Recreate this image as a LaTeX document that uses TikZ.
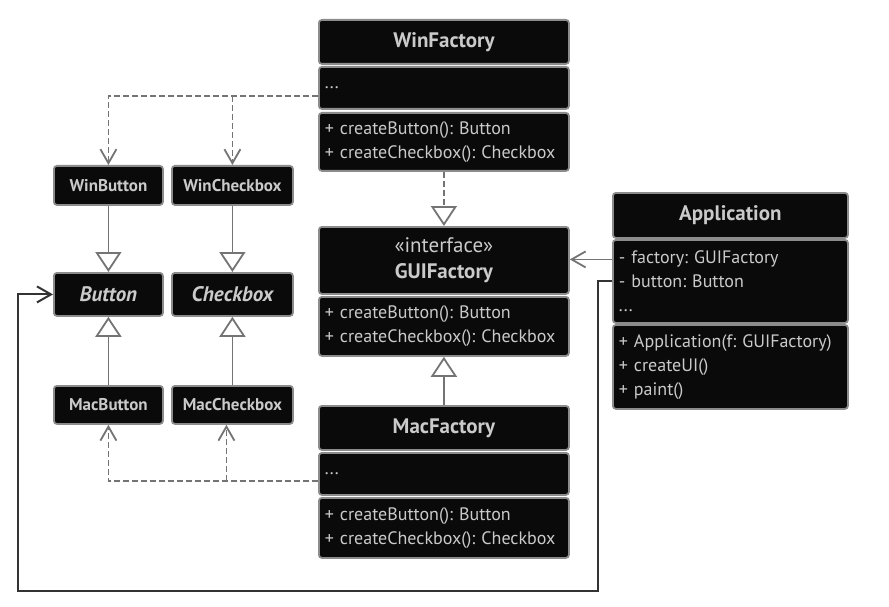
\documentclass[tikz,border=0pt]{standalone}
\usepackage{fontspec}
\setmainfont{PT Sans}
\usepackage{xcolor}
\usepackage{tikz}
\usetikzlibrary{arrows.meta}
\frenchspacing
\definecolor{bg}{HTML}{FFFFFF}
\definecolor{boxbg}{HTML}{0A0A0A}
\definecolor{edge}{HTML}{8C8C8C}
\definecolor{ink}{HTML}{CACACA}
\definecolor{wire}{HTML}{747474}
\definecolor{dark}{HTML}{333333}
\tikzset{
  comp/.style={draw=edge, fill=boxbg, line width=1.8pt, rounded corners=3pt, text=ink, anchor=north west, inner xsep=6pt, inner ysep=0pt, font=\fontsize{18}{24}\selectfont},
  fac/.style={comp, text width=238pt},
  appc/.style={comp, text width=223pt},
  ttl/.style={align=center, font=\fontsize{21}{26}\selectfont\bfseries},
  lst/.style={align=left},
  small/.style={comp, align=center, font=\fontsize{17}{20}\selectfont\bfseries},
  abs/.style={comp, align=center, font=\fontsize{21}{24}\selectfont\bfseries\itshape},
  inh/.style={draw=wire, line width=1.8pt, -{Triangle[length=20pt, width=26pt, fill=white]}},
  real/.style={inh, dash pattern=on 6pt off 3pt},
  dep/.style={draw=wire, line width=1.8pt, dash pattern=on 6pt off 3pt, -{Straight Barb[length=14pt, width=16pt]}},
  assoc/.style={draw=wire, line width=1.8pt, -{Straight Barb[length=14pt, width=16pt]}},
  own/.style={draw=dark, line width=2pt, -{Straight Barb[length=14pt, width=16pt]}},
}

\begin{document}
\begin{tikzpicture}[x=1pt, y=-1pt]
  \useasboundingbox[fill=bg] (0,0) rectangle (889,607);

  % factories
  \node[fac, ttl, minimum height=44pt] (winT) at (318,19) {WinFactory};
  \node[fac, lst, minimum height=42pt] (winA) at (318,66) {...};
  \node[fac, lst, minimum height=58pt] (winM) at (318,112) {+ createButton(): Button\\+ createCheckbox(): Checkbox};

  \node[fac, ttl, minimum height=67pt] (guiT) at (318,226) {{\mdseries «interface»}\\GUIFactory};
  \node[fac, lst, minimum height=59pt] (guiM) at (318,296) {+ createButton(): Button\\+ createCheckbox(): Checkbox};

  \node[fac, ttl, minimum height=44pt] (macT) at (318,405) {MacFactory};
  \node[fac, lst, minimum height=42pt] (macA) at (318,452) {...};
  \node[fac, lst, minimum height=60pt] (macM) at (318,497) {+ createButton(): Button\\+ createCheckbox(): Checkbox};

  % client
  \node[appc, ttl, minimum height=45pt] (appT) at (612,192) {Application};
  \node[appc, lst, minimum height=83pt] (appA) at (612,239) {- factory: GUIFactory\\- button: Button\\...};
  \node[appc, lst, minimum height=84pt] (appM) at (612,324) {+ Application(f: GUIFactory)\\+ createUI()\\+ paint()};

  % products
  \node[small, text width=97pt, minimum height=39pt] (winBtn) at (53,165) {WinButton};
  \node[small, text width=109pt, minimum height=39pt] (winCb) at (171,165) {WinCheckbox};
  \node[abs, text width=97pt, minimum height=43pt] (btn) at (53,272) {Button};
  \node[abs, text width=109pt, minimum height=43pt] (cb) at (171,272) {Checkbox};
  \node[small, text width=97pt, minimum height=38pt] (macBtn) at (53,385) {MacButton};
  \node[small, text width=109pt, minimum height=38pt] (macCb) at (171,385) {MacCheckbox};

  % creates
  \coordinate (winJ) at ([yshift=-8pt]winA.west);
  \draw[dep] (winJ) -| (winBtn.north);
  \draw[dep] (winJ -| winCb.north) -- (winCb.north);
  \coordinate (macJ) at ([yshift=-7pt]macA.west);
  \coordinate (macCbIn) at ([xshift=-6pt]macCb.south);
  \draw[dep] (macJ) -| (macBtn.south);
  \draw[dep] (macJ -| macCbIn) -- (macCbIn);

  % inheritance
  \draw[inh] (winBtn.south) -- (btn.north);
  \draw[inh] (winCb.south) -- (cb.north);
  \draw[inh] (macBtn.north) -- (btn.south);
  \draw[inh] (macCb.north) -- (cb.south);
  \draw[real] (winM.south) -- (guiT.north);
  \draw[inh] (macT.north) -- (guiM.south);

  % associations
  \coordinate (appF) at ([yshift=22pt]appA.west);
  \draw[assoc] (appF) -- (appF -| guiT.east);
  \coordinate (loopR) at (598,591);
  \coordinate (loopL) at (18,591);
  \draw[own] (appA.west) -| (loopR) -- (loopL) |- (btn.west);
\end{tikzpicture}
\end{document}
